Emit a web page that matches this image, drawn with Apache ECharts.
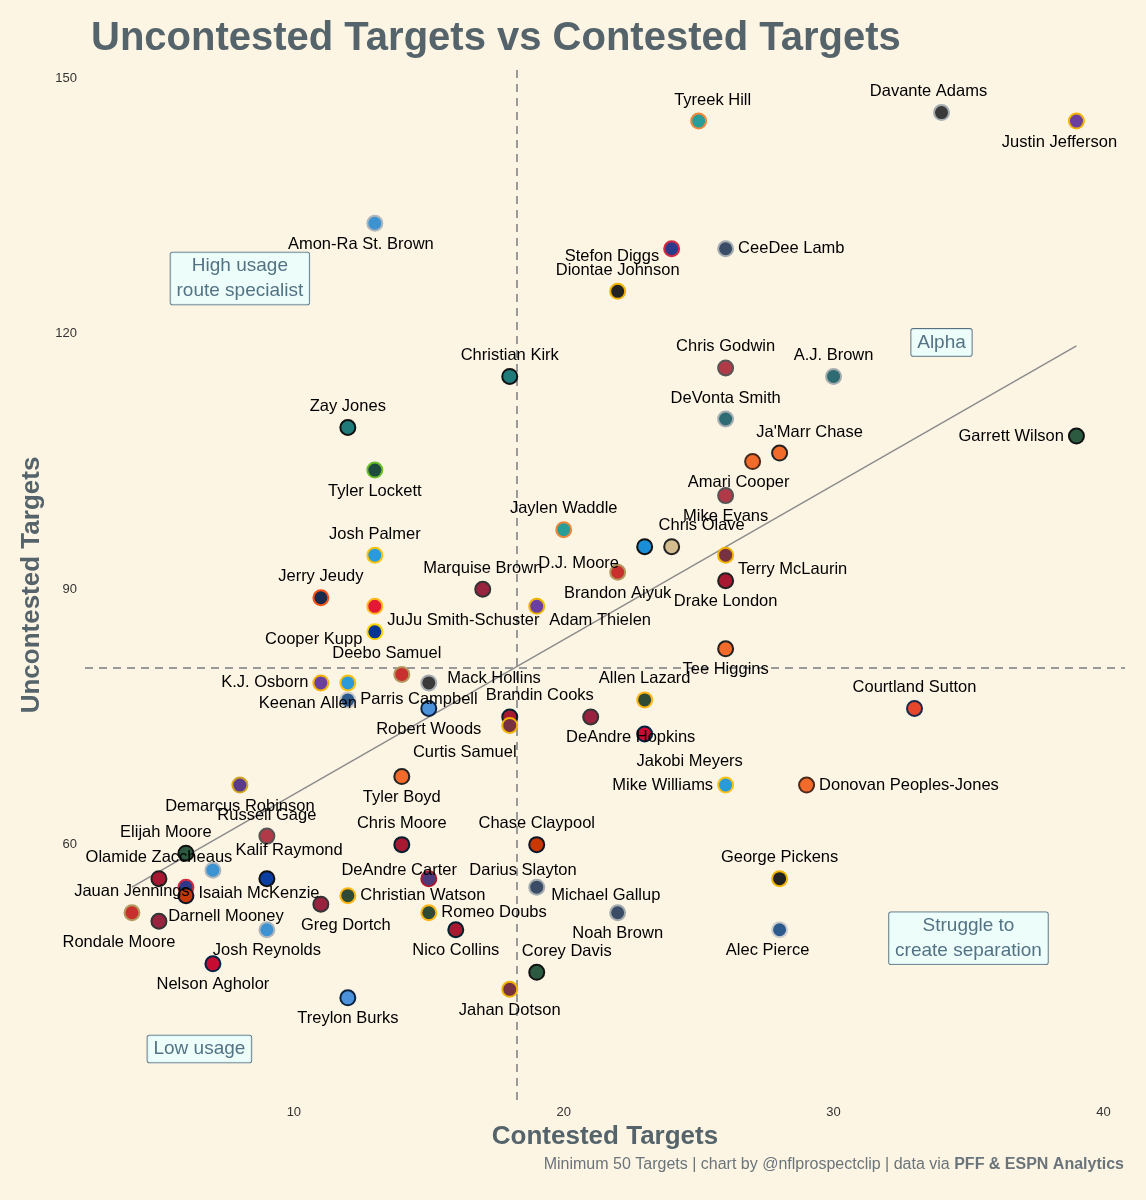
<!DOCTYPE html>
<html>
<head>
<meta charset="utf-8">
<script src="https://cdn.jsdelivr.net/npm/echarts@6/dist/echarts.min.js"></script>
<style>html,body{margin:0;background:#fdf5e4}#main{width:1146px;height:1200px}</style>
</head>
<body>
<div id="main"></div>
<script>
var players = ['Tyreek Hill','Davante Adams','Justin Jefferson','Amon-Ra St. Brown','Stefon Diggs','CeeDee Lamb','Diontae Johnson','Christian Kirk','Chris Godwin','A.J. Brown','Zay Jones','DeVonta Smith','Garrett Wilson',"Ja'Marr Chase",'Amari Cooper','Mike Evans','Tyler Lockett','Jaylen Waddle','Chris Olave','D.J. Moore','Brandon Aiyuk','Terry McLaurin','Drake London','Josh Palmer','Marquise Brown','Jerry Jeudy','JuJu Smith-Schuster','Adam Thielen','Cooper Kupp','Tee Higgins','Deebo Samuel','Mack Hollins','K.J. Osborn','Keenan Allen','Parris Campbell','Robert Woods','Allen Lazard','Courtland Sutton','Brandin Cooks','Curtis Samuel','DeAndre Hopkins','Jakobi Meyers','Tyler Boyd','Mike Williams','Donovan Peoples-Jones','Demarcus Robinson','Russell Gage','Chris Moore','Chase Claypool','Elijah Moore','Kalif Raymond','Olamide Zaccheaus','DeAndre Carter','Darius Slayton','George Pickens','Isaiah McKenzie','Michael Gallup','Christian Watson','Greg Dortch','Jauan Jennings','Romeo Doubs','Noah Brown','Rondale Moore','Darnell Mooney','Josh Reynolds','Nico Collins','Alec Pierce','Nelson Agholor','Corey Davis','Jahan Dotson','Treylon Burks'];
var contested = [25,34,39,13,24,26,22,18,26,30,12,26,39,28,27,26,13,20,24,23,22,26,26,13,17,11,13,19,13,26,14,15,11,12,12,15,23,33,18,18,21,23,14,26,29,8,9,14,19,6,7,5,9,15,28,6,19,12,11,4,15,22,5,6,9,16,28,7,19,18,12];
var uncontested = [145,146,145,133,130,130,125,115,116,115,109,110,108,106,105,101,104,97,95,95,92,94,91,94,90,89,88,88,85,83,80,79,79,79,77,76,77,76,75,74,75,73,68,67,67,67,61,60,60,59,57,56,56,56,56,55,55,54,53,52,52,52,51,54,50,50,50,46,45,43,42];
var teams = ['MIA','LV','MIN','DET','BUF','DAL','PIT','JAX','TB','PHI','JAX','PHI','NYJ','CIN','CLE','TB','SEA','MIA','NO','CAR','SF','WAS','ATL','LAC','ARI','DEN','KC','MIN','LAR','CIN','SF','LV','MIN','LAC','IND','TEN','GB','DEN2','HOU','WAS','ARI','NE','CIN','LAC','CLE','BAL','TB','HOU','CHI','NYJ','DET','ATL','LAC2','NYG','PIT','BUF','DAL','GB','ARI','SF','GB','DAL','ARI','CHI','DET','HOU','IND','NE','NYJ','WAS','TEN'];
var labelPos = ['tyreek','davante','justin','amonra','l','right','top','top','top','top','top','top','left','tr','amari','bottom','bottom','top','tr','djmoore','bottom','rb','bottom','top','top','top','rb','rb','l','bottom','deebo','mack','left','bl','right','bottom','top','top','tr','curtis','br','jakobi','bottom','left','right','bottom','top','top','top','elijah','kalif','top','carter','slayton','top','isaiah','gallup','right','dortch','top','right','bottom','bl','br','bottom','bottom','alec','bottom','tr','bottom','bottom'];
var xTicks = [10,20,30,40];
var yTicks = [60,90,120,150];
var regression = [[4,55],[39,118.6]];
var notes = [
  {text:'High usage\nroute specialist', x:8, y:126.5},
  {text:'Alpha', x:34, y:119},
  {text:'Struggle to\ncreate separation', x:35, y:49},
  {text:'Low usage', x:6.5, y:36}
];

var teamColors = {
  MIA:['#2a9d98','#f0883a'], LV:['#3a3a3a','#a5acaf'], MIN:['#6b3fa0','#f0b400'], DET:['#3d93d1','#b0b7bc'],
  BUF:['#2d3a8c','#d52b3f'], DAL:['#3b4d66','#a5acaf'], PIT:['#222222','#f0b400'], JAX:['#1f7a7a','#111111'],
  TB:['#b03a48','#555555'], PHI:['#2e6b73','#a5acaf'], NYJ:['#2c5a40','#111111'], CIN:['#f26b2a','#222222'],
  CLE:['#f26b2a','#4a2a1a'], SEA:['#1f4a3f','#69be28'], NO:['#d3bc8d','#222222'], CAR:['#1a8fd8','#111111'],
  SF:['#c8302e','#b3995d'], WAS:['#773141','#f0b400'], ATL:['#a71930','#222222'], LAC:['#2b9bd8','#ffc20e'],
  ARI:['#97233f','#333333'], DEN:['#1b2a4a','#fb4f14'], KC:['#e31837','#ffb81c'], LAR:['#003594','#ffd100'],
  IND:['#2c5a8c','#cccccc'], TEN:['#4b92db','#0c2340'], GB:['#2f4a35','#ffb612'], DEN2:['#e8462a','#1b2a4a'],
  HOU:['#a71930','#03202f'], NE:['#c60c30','#002244'], BAL:['#5b3a8c','#d0a520'], CHI:['#c83803','#0b162a'],
  LAC2:['#0a3ea0','#111111'], NYG:['#4b3a7a','#a71930']
};
var offsets = {
  top:['top',[0,0]], bottom:['bottom',[0,0]], left:['left',[0,0]], right:['right',[0,0]],
  bl:['bottom',[-40,0]], br:['bottom',[40,0]], tr:['top',[30,0]],
  l:['left',[0,8]], rb:['right',[0,14]],
  tyreek:['top',[14,0]], davante:['top',[-13,0]], justin:['bottom',[-17,0]], amonra:['bottom',[-14,0]],
  amari:['bottom',[-14,0]], djmoore:['bottom',[-66,-4]], deebo:['top',[-15,0]], mack:['right',[6,-4]],
  curtis:['bottom',[-45,6]], jakobi:['bottom',[45,6]], elijah:['top',[-20,0]], kalif:['right',[10,-20]],
  carter:['right',[62,-8]], slayton:['right',[28,-8]], isaiah:['right',[0,6]], gallup:['right',[2,8]],
  dortch:['bottom',[25,0]], alec:['bottom',[-12,0]]
};

var pts = players.map(function (name, i) {
  var c = teamColors[teams[i]];
  var o = offsets[labelPos[i]];
  return {
    name: name,
    value: [contested[i], uncontested[i]],
    itemStyle: { color: c[0], borderColor: c[1], borderWidth: 2, opacity: 1 },
    label: { position: o[0], offset: o[1] }
  };
});

var myChart = echarts.init(document.getElementById('main'));
var option = {
  backgroundColor: '#fdf5e4',
  animation: false,
  title: {
    text: 'Uncontested Targets vs Contested Targets',
    left: 86, top: 14,
    textStyle: { fontSize: 40, fontWeight: 'bold', color: '#55636b', fontFamily: 'Liberation Sans' }
  },
  grid: { left: 85, right: 21, top: 70, bottom: 100 },
  xAxis: {
    type: 'value', min: 2.26, max: 40.8,
    name: 'Contested Targets', nameLocation: 'middle', nameGap: 22,
    nameTextStyle: { fontSize: 26, fontWeight: 'bold', color: '#55636b', fontFamily: 'Liberation Sans' },
    axisLine: { show: false }, axisTick: { show: false }, splitLine: { show: false },
    axisLabel: { customValues: xTicks, color: '#333', fontSize: 13, margin: 6, fontFamily: 'Liberation Sans' }
  },
  yAxis: {
    type: 'value', min: 30, max: 151,
    name: 'Uncontested Targets', nameLocation: 'middle', nameGap: 36,
    nameTextStyle: { fontSize: 26, fontWeight: 'bold', color: '#55636b', fontFamily: 'Liberation Sans' },
    axisLine: { show: false }, axisTick: { show: false }, splitLine: { show: false },
    axisLabel: { customValues: yTicks, color: '#333', fontSize: 13, fontFamily: 'Liberation Sans' }
  },
  graphic: [{
    type: 'text', right: 22, top: 1157,
    style: {
      text: '{n|Minimum 50 Targets | chart by @nflprospectclip | data via }{b|PFF & ESPN Analytics}',
      rich: {
        n: { fontSize: 16, fill: '#6a747a', fontFamily: 'Liberation Sans' },
        b: { fontSize: 16, fill: '#6a747a', fontWeight: 'bold', fontFamily: 'Liberation Sans' }
      }
    }
  }],
  series: [
    {
      type: 'line', data: regression, symbol: 'none', silent: true,
      lineStyle: { color: '#8c8c8c', width: 1.5 },
      markLine: {
        symbol: 'none', silent: true, label: { show: false },
        lineStyle: { type: [8, 6], color: '#9a9a9a', width: 2 },
        data: [{ xAxis: 18.26 }, { yAxis: 80.8 }]
      }
    },
    {
      type: 'scatter', data: pts, symbolSize: 15, z: 5,
      label: { show: true, formatter: '{b}', color: '#000', fontSize: 16.5, distance: 4, fontFamily: 'Liberation Sans' }
    },
    {
      type: 'scatter', symbolSize: 0, z: 6, silent: true,
      data: notes.map(function (n) { return { name: n.text, value: [n.x, n.y] }; }),
      label: {
        show: true, position: 'inside', formatter: '{b}', color: '#2c4f66', fontSize: 19, lineHeight: 25,
        backgroundColor: '#e9ffff', borderColor: '#2c4f66', borderWidth: 0.8, borderRadius: 2,
        padding: [1, 6], fontFamily: 'Liberation Sans'
      }
    }
  ]
};
myChart.setOption(option);
</script>
</body>
</html>
